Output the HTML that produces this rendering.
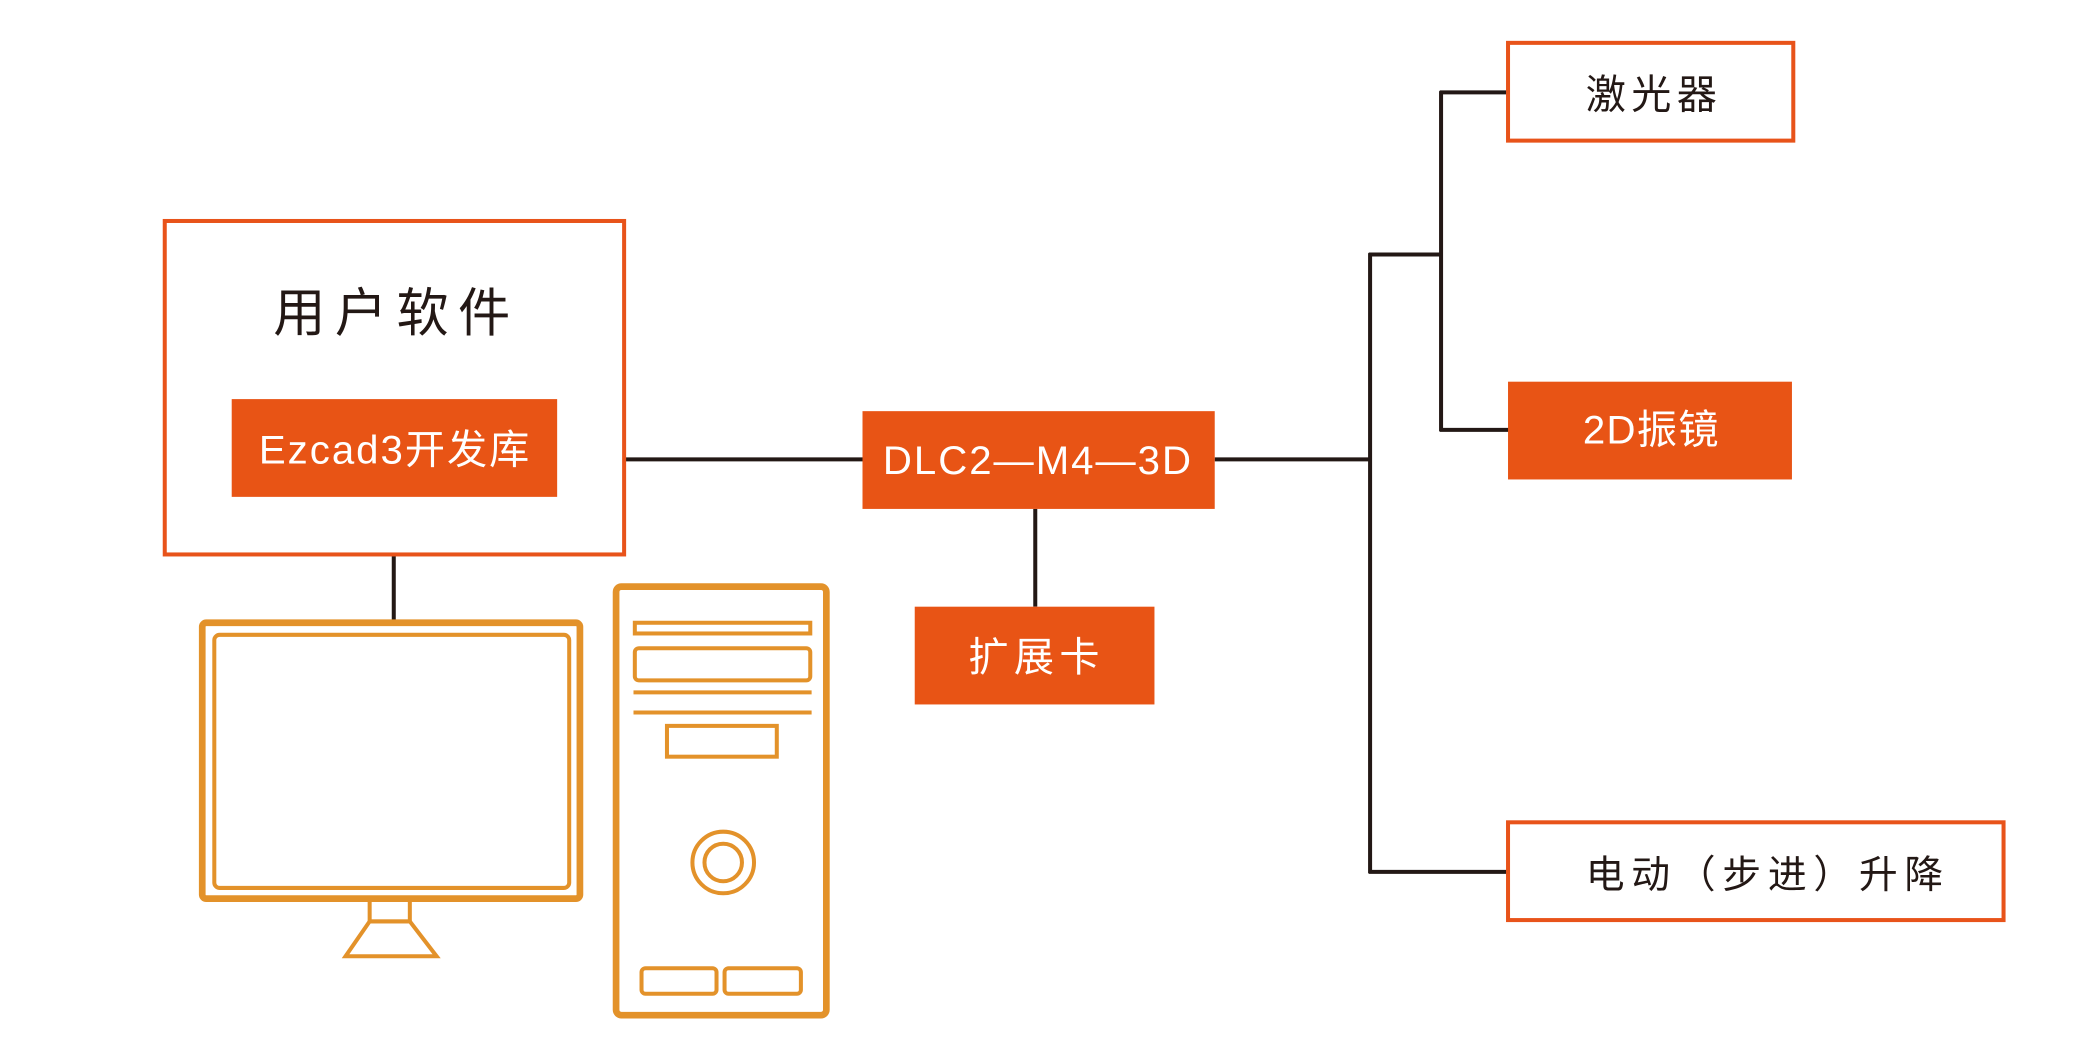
<!DOCTYPE html>
<html><head><meta charset="utf-8"><style>
html,body{margin:0;padding:0;background:#fff;width:2100px;height:1054px;overflow:hidden}
svg{display:block}
text{font-family:"Liberation Sans","Noto Sans CJK SC",sans-serif}
</style></head><body>
<svg width="2100" height="1054" viewBox="0 0 1568 787" xmlns="http://www.w3.org/2000/svg">
<g stroke="#231815" stroke-width="3" fill="none">
<line x1="466" y1="343" x2="644" y2="343"/>
<line x1="773" y1="380" x2="773" y2="453"/>
<line x1="907" y1="343" x2="1023" y2="343"/>
<line x1="1023" y1="189" x2="1023" y2="652"/>
<line x1="1022" y1="190" x2="1077" y2="190"/>
<line x1="1076" y1="68" x2="1076" y2="322"/>
<line x1="1075" y1="69" x2="1126" y2="69"/>
<line x1="1075" y1="321" x2="1127" y2="321"/>
<line x1="1022" y1="651" x2="1127" y2="651"/>
<line x1="294" y1="414" x2="294" y2="463"/>
</g>
<rect x="123" y="165" width="343" height="249" fill="#fff" stroke="#e8531a" stroke-width="3"/>
<text x="296" y="247" font-size="39" text-anchor="middle" fill="#231815" letter-spacing="7">用户软件</text>
<rect x="173" y="298" width="243" height="73" fill="#e85415"/>
<text x="295" y="346" font-size="30" text-anchor="middle" fill="#fff" letter-spacing="1.5">Ezcad3开发库</text>
<rect x="644" y="307" width="263" height="73" fill="#e85415"/>
<text x="775" y="354" font-size="30" text-anchor="middle" fill="#fff" letter-spacing="1.5">DLC2—M4—3D</text>
<rect x="683" y="453" width="179" height="73" fill="#e85415"/>
<text x="774" y="501" font-size="30" text-anchor="middle" fill="#fff" letter-spacing="4">扩展卡</text>
<rect x="1126" y="32" width="213" height="73" fill="#fff" stroke="#e8531a" stroke-width="3"/>
<text x="1235" y="81" font-size="30" text-anchor="middle" fill="#231815" letter-spacing="4">激光器</text>
<rect x="1126" y="285" width="212" height="73" fill="#e85415"/>
<text x="1233" y="331" font-size="30" text-anchor="middle" fill="#fff" letter-spacing="1">2D振镜</text>
<rect x="1126" y="614" width="370" height="73" fill="#fff" stroke="#e8531a" stroke-width="3"/>
<text x="1320" y="663" font-size="29" text-anchor="middle" fill="#231815" letter-spacing="5">电动（步进）升降</text>
<g stroke="#e3922a" fill="none">
<rect x="151" y="465" width="282" height="206" rx="3" stroke-width="5"/>
<rect x="160" y="474" width="265" height="189" rx="4" stroke-width="3"/>
<rect x="276" y="671" width="30" height="17" stroke-width="3"/>
<polygon points="276,688 306,688 326,714 258,714" stroke-width="3"/>
<rect x="460" y="438" width="157" height="320" rx="4" stroke-width="5"/>
<rect x="474" y="465" width="131" height="8" stroke-width="3"/>
<rect x="474" y="484" width="131" height="24" rx="3" stroke-width="3"/>
<line x1="473" y1="517" x2="606" y2="517" stroke-width="3"/>
<line x1="473" y1="532" x2="606" y2="532" stroke-width="3"/>
<rect x="498" y="542" width="82" height="23" stroke-width="3"/>
<circle cx="540" cy="644" r="23" stroke-width="3"/>
<circle cx="540" cy="644" r="14" stroke-width="3"/>
<rect x="479" y="723" width="56" height="19" rx="3" stroke-width="3"/>
<rect x="541" y="723" width="57" height="19" rx="3" stroke-width="3"/>
</g>
</svg>
</body></html>
